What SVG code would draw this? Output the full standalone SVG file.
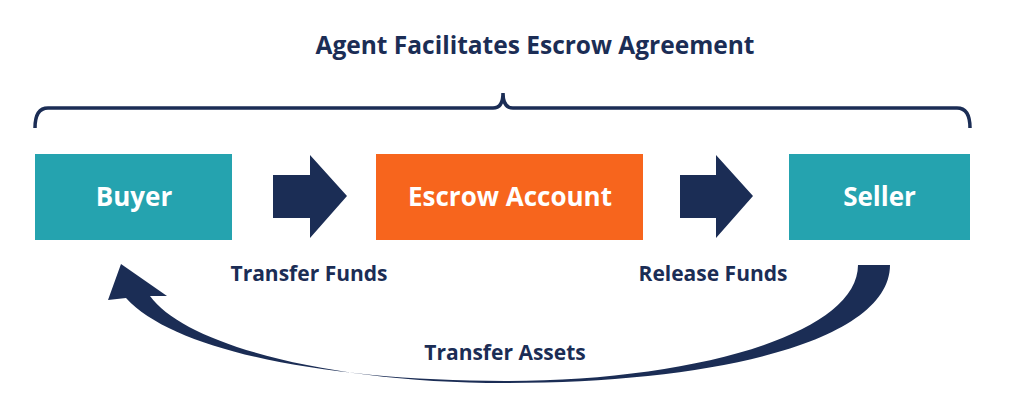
<svg xmlns="http://www.w3.org/2000/svg" width="1024" height="408" viewBox="0 0 1024 408">
<style>
.t{font-family:"Open Sans","DejaVu Sans",sans-serif;font-weight:bold;fill:#1B2D55;text-anchor:middle}
.b{font-family:"Open Sans","DejaVu Sans",sans-serif;font-weight:bold;fill:#fff;text-anchor:middle;font-size:26px}
.n{fill:#1B2D55}
</style>
<rect width="1024" height="408" fill="#fff"/>
<text class="t" x="535" y="54" font-size="24.5">Agent Facilitates Escrow Agreement</text>
<path d="M35 128 Q35 108 48 108 L493 108 Q503 108 503 93 Q503 108 513 108 L957 108 Q970 108 970 128" fill="none" stroke="#1B2D55" stroke-width="3.5"/>
<g id="buyer"><rect x="35" y="154" width="197" height="86" fill="#25A3AF"/><text class="b" x="134" y="206">Buyer</text></g>
<g id="escrow"><rect x="376" y="154" width="267" height="86" fill="#F7651D"/><text class="b" x="510" y="206">Escrow Account</text></g>
<g id="seller"><rect x="789" y="154" width="181" height="86" fill="#25A3AF"/><text class="b" x="879.5" y="206">Seller</text></g>
<g id="connectors">
<polygon class="n" points="273,175 310,175 310,155 347,196 310,238 310,218 273,218"/>
<polygon class="n" points="680,175 716,175 716,155 753,196 716,238 716,218 680,218"/>
<path class="n" d="M858 265 L890 265 C890 340 720 383 505 383 C330 383 185 345 150 296 L167 296 L121 264 L108 300 L126 298 C175 352 330 381 505 381 C690 381 858 335 858 265 Z"/>
</g>
<text class="t" x="309" y="281" font-size="21">Transfer Funds</text>
<text class="t" x="713" y="281" font-size="21">Release Funds</text>
<text class="t" x="505" y="360" font-size="21">Transfer Assets</text>
</svg>
